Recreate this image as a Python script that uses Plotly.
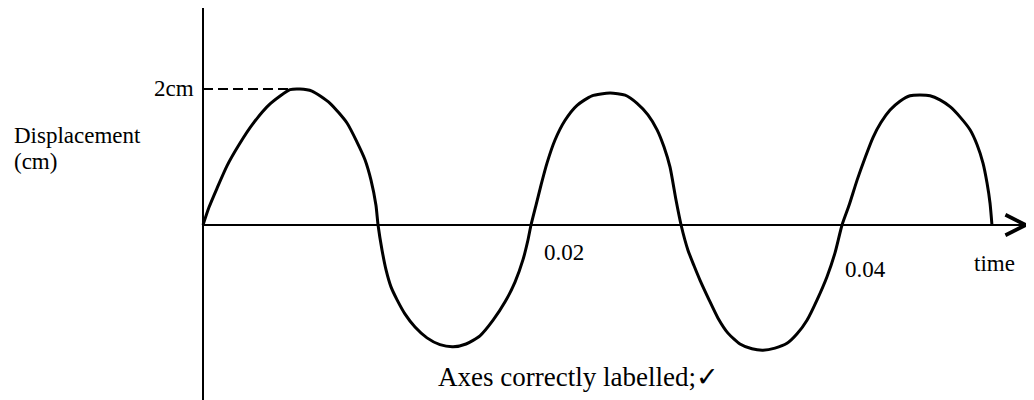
#!/usr/bin/env python3
"""Displacement–time sketch: sine-like wave, 2 cm amplitude, period ~0.02 s."""
import plotly.graph_objects as go

# curve (time in s, displacement in cm)
TIME = [0.0, 0.000375, 0.000875, 0.0015, 0.00225, 0.003125, 0.00419, 0.00544,
        0.00606, 0.00681, 0.00794, 0.0090, 0.009625, 0.010125, 0.0105, 0.01081,
        0.01094,
        0.01119, 0.01144, 0.01175, 0.01213, 0.01263, 0.01325, 0.0140, 0.01481,
        0.01563, 0.01644, 0.01731, 0.01813, 0.01888, 0.0195, 0.0200, 0.02031,
        0.0205,
        0.02081, 0.02113, 0.0215, 0.0220, 0.02263, 0.02338, 0.02431, 0.02544,
        0.02638, 0.02713, 0.02781, 0.02838, 0.02881, 0.02919, 0.02956, 0.02988,
        0.03031, 0.03069, 0.03106, 0.03163, 0.03219, 0.03281, 0.03356, 0.03431,
        0.0350, 0.03575, 0.0365, 0.03713, 0.03775, 0.03838, 0.0390, 0.0395,
        0.03994,
        0.04038, 0.04088, 0.04138, 0.04188, 0.04238, 0.04294, 0.04356, 0.04419,
        0.04481, 0.04544, 0.04606, 0.04669, 0.04731, 0.04794, 0.04838, 0.04875,
        0.0490, 0.04919, 0.04931]
DISP = [0.0, 0.26, 0.54, 0.87, 1.18, 1.49, 1.78, 1.99,
        2.0, 1.97, 1.79, 1.50, 1.22, 0.96, 0.66, 0.29,
        0.0,
        -0.37, -0.66, -0.91, -1.10, -1.31, -1.50, -1.66, -1.76,
        -1.79, -1.75, -1.63, -1.40, -1.13, -0.84, -0.51, -0.22,
        0.0,
        0.29, 0.59, 0.91, 1.25, 1.54, 1.76, 1.90, 1.94,
        1.91, 1.79, 1.62, 1.40, 1.15, 0.85, 0.37, 0.0,
        -0.37, -0.60, -0.81, -1.10, -1.37, -1.59, -1.75, -1.82,
        -1.84, -1.81, -1.74, -1.60, -1.40, -1.10, -0.76, -0.41,
        0.0,
        0.29, 0.66, 0.99, 1.29, 1.51, 1.69, 1.82, 1.90,
        1.91, 1.90, 1.84, 1.74, 1.59, 1.40, 1.18, 0.91,
        0.62, 0.32, 0.0]

AMPLITUDE = 2.0          # cm, marked on the y axis
TIME_LABELS = [0.02, 0.04]
T_AXIS_END = 0.0517      # where the time arrow stops
Y_AXIS = (-2.8, 3.3)     # extent of the drawn displacement axis

FONT = "Liberation Serif, Times New Roman, serif"

t_peak = TIME[DISP.index(max(DISP))]

fig = go.Figure()

# axes drawn by hand like the sketch
fig.add_trace(go.Scatter(x=[0, 0], y=list(Y_AXIS), mode="lines",
                         line=dict(color="black", width=2), hoverinfo="skip"))
fig.add_trace(go.Scatter(x=[0, T_AXIS_END], y=[0, 0], mode="lines",
                         line=dict(color="black", width=2), hoverinfo="skip"))
# amplitude guide
fig.add_trace(go.Scatter(x=[0, t_peak], y=[AMPLITUDE, AMPLITUDE], mode="lines",
                         line=dict(color="black", width=2, dash="10px,5px"),
                         hoverinfo="skip"))
# the wave
fig.add_trace(go.Scatter(x=TIME, y=DISP, mode="lines",
                         line=dict(color="black", width=3, shape="spline", smoothing=0.6)))

# arrow head on the time axis
fig.add_annotation(x=T_AXIS_END, y=0, ax=T_AXIS_END - 0.002, ay=0,
                   xref="x", yref="y", axref="x", ayref="y", text="",
                   showarrow=True, arrowhead=5, arrowsize=2, arrowwidth=2,
                   arrowcolor="black", standoff=0)

txt = dict(showarrow=False, xref="x", yref="y", font=dict(family=FONT, size=23, color="black"))
fig.add_annotation(x=-0.00044, y=AMPLITUDE, text="2cm", xanchor="right", yanchor="middle", **txt)
fig.add_annotation(x=TIME_LABELS[0] + 0.0012, y=-0.40, text=f"{TIME_LABELS[0]:.2f}",
                   xanchor="left", yanchor="middle", **txt)
fig.add_annotation(x=TIME_LABELS[1] + 0.0000, y=-0.66, text=f"{TIME_LABELS[1]:.2f}",
                   xanchor="left", yanchor="middle", **txt)
fig.add_annotation(x=0.04806, y=-0.56, text="time", xanchor="left", yanchor="middle", **txt)
fig.add_annotation(x=-0.01194, y=1.31, text="Displacement", xanchor="left", yanchor="middle", **txt)
fig.add_annotation(x=-0.01194, y=0.93, text="(cm)", xanchor="left", yanchor="middle", **txt)
fig.add_annotation(x=0.02344, y=-2.235, text="Axes correctly labelled;✓",
                   xanchor="center", yanchor="middle",
                   showarrow=False, xref="x", yref="y",
                   font=dict(family=FONT, size=27, color="black"))

# the page body sits 8px in from the window corner; ranges absorb that offset
fig.update_xaxes(visible=False, range=[-0.0121875, 0.0524375])
fig.update_yaxes(visible=False, range=[-2.691, 3.191])
fig.update_layout(width=1034, height=400, margin=dict(l=0, r=0, t=0, b=0),
                  showlegend=False, plot_bgcolor="white", paper_bgcolor="white")

fig.write_html("out.html")
